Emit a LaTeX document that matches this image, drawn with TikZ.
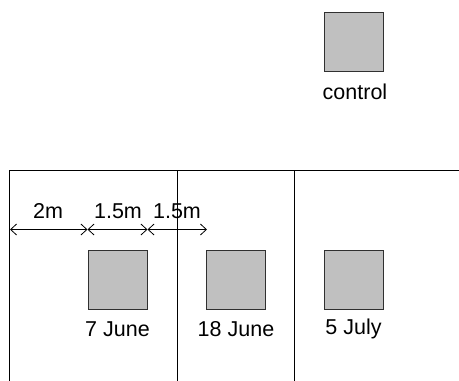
\documentclass[tikz,border=0pt]{standalone}
\usepackage{fontspec}
\setmainfont{Liberation Sans}
\usetikzlibrary{arrows.meta}
\definecolor{plotgray}{HTML}{C0C0C0}
\definecolor{edgegray}{HTML}{303030}
\tikzset{
  plot/.style={draw=edgegray, fill=plotgray, line width=0.9pt, minimum width=59pt, minimum height=59pt, inner sep=0pt, anchor=north west},
  lbl/.style={font=\fontsize{21.5}{23}\selectfont, inner sep=0pt},
  bound/.style={draw=black, line width=0.8pt},
  dim/.style={draw=black, line width=0.8pt, {Straight Barb[length=6pt,width=11pt]}-{Straight Barb[length=6pt,width=11pt]}}
}
\begin{document}
\begin{tikzpicture}[x=1pt,y=-1pt]
\useasboundingbox (0,0) rectangle (459,381);
% boundaries
\coordinate (tl) at (9,170);
\coordinate (tr) at (459,170);
\coordinate (bl) at (9,381);
\coordinate (v1t) at (177,170);
\coordinate (v1b) at (177,381);
\coordinate (v2t) at (294,170);
\coordinate (v2b) at (294,381);
\draw[bound] (bl) -- (tl) -- (tr);
\draw[bound] (v1t) -- (v1b);
\draw[bound] (v2t) -- (v2b);
% plots
\node[plot] (ctrl) at (323.5,12) {};
\node[plot] (p1) at (88,249.5) {};
\node[plot] (p2) at (206,249.5) {};
\node[plot] (p3) at (324,249.5) {};
\node[lbl] (lc) at (355,92) {control};
\node[lbl] (l1) at (117.5,329) {7 June};
\node[lbl] (l2) at (236,329) {18 June};
\node[lbl] (l3) at (353.5,329) {5 July};
% dimensions
\coordinate (d0) at (10,229.5);
\coordinate (d1) at (87.5,229.5);
\coordinate (d2) at (147.5,229.5);
\coordinate (d3) at (207,229.5);
\draw[dim] (d0) -- (d1);
\draw[dim] (d1) -- (d2);
\draw[dim] (d2) -- (d3);
\node[lbl] (m1) at (48,211) {2m};
\node[lbl] (m2) at (118,211) {1.5m};
\node[lbl] (m3) at (177,211) {1.5m};
\end{tikzpicture}
\end{document}
